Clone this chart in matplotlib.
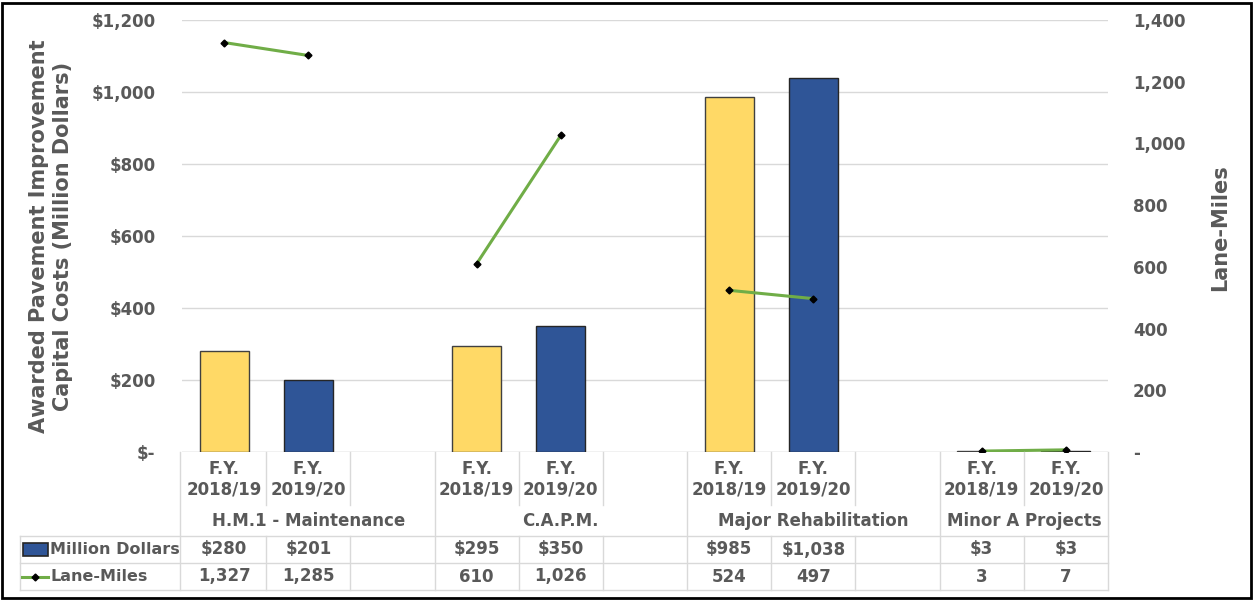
import matplotlib
matplotlib.use("Agg")
import matplotlib.pyplot as plt
from matplotlib.patches import Rectangle
from matplotlib.lines import Line2D

groups = ["H.M.1 - Maintenance", "C.A.P.M.", "Major Rehabilitation", "Minor A Projects"]
years = ["F.Y.\n2018/19", "F.Y.\n2019/20"]
dollars = [[280, 201], [295, 350], [985, 1038], [3, 3]]
lane_miles = [[1327, 1285], [610, 1026], [524, 497], [3, 7]]
dollar_labels = [["$280", "$201"], ["$295", "$350"], ["$985", "$1,038"], ["$3", "$3"]]
lane_labels = [["1,327", "1,285"], ["610", "1,026"], ["524", "497"], ["3", "7"]]
left_ticks = [0, 200, 400, 600, 800, 1000, 1200]
left_ticklabels = ["$-", "$200", "$400", "$600", "$800", "$1,000", "$1,200"]
right_ticks = [0, 200, 400, 600, 800, 1000, 1200, 1400]
right_ticklabels = ["-", "200", "400", "600", "800", "1,000", "1,200", "1,400"]

YELLOW = "#FFD966"
BLUE = "#2F5597"
GREEN = "#70AD47"
GRAY = "#595959"
GRID = "#D9D9D9"
FONT = "DejaVu Sans"

W, H = 1254, 601
fig = plt.figure(figsize=(W / 100, H / 100), dpi=100)
px_l, px_r, px_t, px_b = 182, 1108, 20, 452
ax = fig.add_axes([px_l / W, 1 - px_b / H, (px_r - px_l) / W, (px_b - px_t) / H])
ax2 = ax.twinx()

positions = []
p = 0
for gi in range(len(groups)):
    positions.append([p, p + 1])
    p += 3
nslots = positions[-1][1] + 1
ax.set_xlim(-0.5, nslots - 0.5)

bar_w = 0.58
colors = [YELLOW, BLUE]
for gi in range(len(groups)):
    for yi in range(2):
        ax.bar(positions[gi][yi], dollars[gi][yi], width=bar_w, color=colors[yi],
               edgecolor="#262626" if yi == 1 else "#404040", linewidth=1.0, zorder=3)
    ax2.plot(positions[gi], lane_miles[gi], color=GREEN, lw=2.2, marker="D",
             markersize=3.5, markerfacecolor="black", markeredgecolor="black", zorder=4)

ax.set_ylim(0, 1200)
ax2.set_ylim(0, 1400)
ax.set_yticks(left_ticks)
ax.set_yticklabels(left_ticklabels, fontsize=12, fontweight="bold", color=GRAY, family=FONT)
ax2.set_yticks(right_ticks)
ax2.set_yticklabels(right_ticklabels, fontsize=12, fontweight="bold", color=GRAY, family=FONT)
for a in (ax, ax2):
    for s in a.spines.values():
        s.set_visible(False)
ax.yaxis.set_tick_params(length=0, pad=19)
ax2.yaxis.set_tick_params(length=0, pad=18)
ax.set_xticks([])
ax.yaxis.grid(True, color=GRID, lw=1.0, zorder=0)
ax.set_axisbelow(True)
ax.axhline(0, color=GRID, lw=1.0, zorder=2)

fig.text(51 / W, 1 - 236 / H, "Awarded Pavement Improvement\nCapital Costs (Million Dollars)",
         rotation=90, ha="center", va="center", fontsize=15, fontweight="bold",
         color=GRAY, family=FONT, linespacing=1.3)
fig.text(1220 / W, 1 - 228 / H, "Lane-Miles", rotation=90, ha="center", va="center",
         fontsize=15, fontweight="bold", color=GRAY, family=FONT)

def fy(px):
    return 1 - px / H

def fx(px):
    return px / W

slot_w = (px_r - px_l) / nslots
def sx(slot_edge):
    return px_l + (slot_edge + 0.5) * slot_w

row_cat_top, row_grp, row_d1, row_d2, row_end = 452, 507, 536, 563, 590
lc = GRID
lw = 1.0
def hline(x0, x1, y):
    fig.add_artist(Line2D([fx(x0), fx(x1)], [fy(y), fy(y)], color=lc, lw=lw))
def vline(x, y0, y1):
    fig.add_artist(Line2D([fx(x), fx(x)], [fy(y0), fy(y1)], color=lc, lw=lw))

hline(20, px_r, row_d1)
hline(20, px_r, row_d2)
hline(20, px_r, row_end)
vline(20, row_d1, row_end)
vline(px_l - 2, row_cat_top, row_end)
vline(px_r, row_cat_top, row_end)
TS = 12
for gi in range(len(groups)):
    g0 = positions[gi][0] - 0.5
    last = gi == len(groups) - 1
    g1 = positions[gi][1] + 0.5 if last else positions[gi][0] + 2.5
    if not last:
        vline(sx(g1), row_cat_top, row_end)
    for e in [positions[gi][0] + 0.5, positions[gi][1] + 0.5]:
        if e < g1:
            vline(sx(e), row_cat_top, row_grp - 2)
            vline(sx(e), row_d1, row_end)
    gmid = (sx(g0) + sx(g1)) / 2
    fig.text(fx(gmid), fy(521), groups[gi], ha="center", va="center", fontsize=TS,
             fontweight="bold", color=GRAY, family=FONT)
    for yi in range(2):
        cx = sx(positions[gi][yi])
        fig.text(fx(cx), fy(479), years[yi], ha="center", va="center", fontsize=TS,
                 fontweight="bold", color=GRAY, family=FONT, linespacing=1.15)
        fig.text(fx(cx), fy(549.5), dollar_labels[gi][yi], ha="center", va="center",
                 fontsize=TS, fontweight="bold", color=GRAY, family=FONT)
        fig.text(fx(cx), fy(576.5), lane_labels[gi][yi], ha="center", va="center",
                 fontsize=TS, fontweight="bold", color=GRAY, family=FONT)

fig.add_artist(Rectangle((fx(23), fy(556)), (48 - 23) / W, 13 / H, facecolor=BLUE,
                         edgecolor="#262626", lw=1.2))
fig.text(fx(50), fy(549.5), "Million Dollars", ha="left", va="center", fontsize=11.5,
         fontweight="bold", color=GRAY, family=FONT)
fig.add_artist(Line2D([fx(22), fx(48)], [fy(576.5), fy(576.5)], color=GREEN, lw=2.2))
fig.add_artist(Line2D([fx(35)], [fy(576.5)], marker="D", markersize=3.5, color="black", lw=0))
fig.text(fx(50), fy(576.5), "Lane-Miles", ha="left", va="center", fontsize=11.5,
         fontweight="bold", color=GRAY, family=FONT)

fig.add_artist(Rectangle((2 / W, 3 / H), (W - 5) / W, (H - 6) / H, fill=False,
                         edgecolor="black", lw=2))

fig.savefig("out.png", dpi=100, facecolor="white")
